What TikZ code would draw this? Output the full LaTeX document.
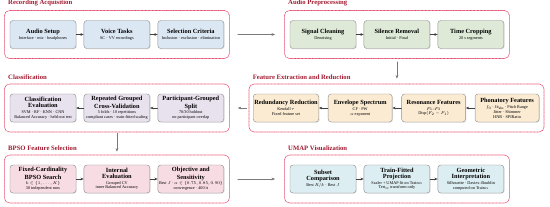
\documentclass[tikz,border=0pt]{standalone}
\usepackage{amsmath,amssymb}
\usepackage{fontspec}
\setmainfont{Liberation Serif}
\usepackage{xcolor}
\usepackage{tikz}
\usetikzlibrary{arrows.meta,positioning,calc,shadows}
\definecolor{framered}{HTML}{E4476B}
\definecolor{titlered}{HTML}{A11A31}
\definecolor{boxgray}{HTML}{8E8E8E}
\definecolor{arrowink}{HTML}{3F3F3F}
\definecolor{linkgray}{HTML}{7A7A7A}
\definecolor{fillblue}{HTML}{DCE7F4}
\definecolor{fillgreen}{HTML}{DEEAD7}
\definecolor{filllilac}{HTML}{E8E2EE}
\definecolor{fillsand}{HTML}{FAEBD2}
\definecolor{fillpink}{HTML}{F8DCE4}
\definecolor{fillcyan}{HTML}{DDEEF2}
\newcommand{\boxhead}[1]{{\fontsize{9}{10}\selectfont\bfseries #1}}
\newcommand{\boxnote}[1]{{\fontsize{6}{7}\selectfont #1}}
\tikzset{
    every picture/.style={line cap=round,line join=round},
    stagebox/.style={draw=boxgray,line width=0.6pt,rounded corners=1.5mm,
      minimum width=33mm,minimum height=14mm,inner sep=1.5pt,align=center,
      drop shadow={opacity=0.18,shadow xshift=0.4mm,shadow yshift=-0.4mm}},
    featbox/.style={stagebox,minimum width=32mm},
    groupframe/.style={draw=framered,line width=0.9pt,dash pattern=on 0.9pt off 1.1pt,
      rounded corners=2.5mm,inner sep=0pt,minimum width=112.5mm,minimum height=24mm},
    grouptitle/.style={anchor=south west,inner sep=0pt,text=titlered,
      font=\fontsize{9.5}{11}\selectfont\bfseries},
    steparrow/.style={-{Stealth[length=1.6mm,width=1.3mm]},draw=arrowink,line width=0.6pt},
    linkarrow/.style={-{Stealth[length=1.8mm,width=1.4mm]},draw=linkgray,line width=0.6pt}
}

\begin{document}
\begin{tikzpicture}[x=0.5mm,y=0.5mm,font=\fontsize{6}{7}\selectfont]
  \useasboundingbox (0,0) rectangle (550,-207);

  \node[stagebox,fill=fillblue] (setup) at (43,-34.5) {\boxhead{Audio Setup}\\[1.5pt]\boxnote{Interface · mic · headphones}};
  \node[stagebox,fill=fillblue,right=3.75mm of setup] (tasks) {\boxhead{Voice Tasks}\\[1.5pt]\boxnote{SC · VV recordings}};
  \node[stagebox,fill=fillblue,right=3.75mm of tasks] (criteria) {\boxhead{Selection Criteria}\\[1.5pt]\boxnote{Inclusion · exclusion · elimination}};
  \draw[steparrow] (setup) -- (tasks); \draw[steparrow] (tasks) -- (criteria);
  \node[groupframe] (acq) at ($(setup)!0.5!(criteria)$) {};
  \node[grouptitle] (acqtitle) at ([xshift=2mm,yshift=1.8mm]acq.north west) {Recording Acquisition};

  \node[stagebox,fill=fillgreen] (clean) at (323,-34.5) {\boxhead{Signal Cleaning}\\[1.5pt]\boxnote{Denoising}};
  \node[stagebox,fill=fillgreen,right=3.75mm of clean] (silence) {\boxhead{Silence Removal}\\[1.5pt]\boxnote{Initial · Final}};
  \node[stagebox,fill=fillgreen,right=3.75mm of silence] (crop) {\boxhead{Time Cropping}\\[1.5pt]\boxnote{20 s segments}};
  \draw[steparrow] (clean) -- (silence); \draw[steparrow] (silence) -- (crop);
  \node[groupframe] (pre) at ($(clean)!0.5!(crop)$) {};
  \node[grouptitle] (pretitle) at ([xshift=2mm,yshift=1.8mm]pre.north west) {Audio Preprocessing};

  \node[stagebox,fill=filllilac] (evalcls) at (43,-108) {\boxhead{Classification}\\[1.5pt]\boxhead{Evaluation}\\[1pt]\boxnote{SVM · RF · KNN · CNN}\\\boxnote{Balanced Accuracy · held-out test}};
  \node[stagebox,fill=filllilac,right=3.75mm of evalcls] (repcv) {\boxhead{Repeated Grouped}\\[1.5pt]\boxhead{Cross-Validation}\\[1pt]\boxnote{5 folds · 10 repetitions}\\\boxnote{compliant cases · train-fitted scaling}};
  \node[stagebox,fill=filllilac,right=3.75mm of repcv] (split) {\boxhead{Participant-Grouped}\\[1.5pt]\boxhead{Split}\\[1pt]\boxnote{70/30 holdout}\\\boxnote{no participant overlap}};
  \draw[steparrow] (split) -- (repcv); \draw[steparrow] (repcv) -- (evalcls);
  \node[groupframe] (cls) at ($(evalcls)!0.5!(split)$) {};
  \node[grouptitle] (clstitle) at ([xshift=2mm,yshift=1.8mm]cls.north west) {Classification};

  \node[featbox,fill=fillsand] (redund) at (286,-108) {\boxhead{Redundancy Reduction}\\[1.5pt]\boxnote{Kendall $\tau$}\\\boxnote{Fixed feature set}};
  \node[featbox,fill=fillsand,right=4.5mm of redund] (envel) {\boxhead{Envelope Spectrum}\\[1.5pt]\boxnote{CF · PW}\\\boxnote{$\alpha$ exponent}};
  \node[featbox,fill=fillsand,right=4.5mm of envel] (reson) {\boxhead{Resonance Features}\\[1.5pt]\boxnote{$F_1$–$F_3$}\\\boxnote{Disp$(F_2-F_1)$}};
  \node[featbox,fill=fillsand,right=4.5mm of reson] (phon) {\boxhead{Phonatory Features}\\[1.5pt]\boxnote{$f_0$ · Jit$_{\text{abs}}$ · Pitch Range}\\\boxnote{Jitter · Shimmer}\\\boxnote{HNR · SPIRatio}};
  \draw[steparrow] (phon) -- (reson); \draw[steparrow] (reson) -- (envel); \draw[steparrow] (envel) -- (redund);
  \node[groupframe,minimum width=147.5mm] (feat) at ($(redund)!0.5!(phon)$) {};
  \node[grouptitle] (feattitle) at ([xshift=2mm,yshift=1.8mm]feat.north west) {Feature Extraction and Reduction};

  \node[stagebox,fill=fillpink] (bpsosearch) at (43,-179) {\boxhead{Fixed-Cardinality}\\[1.5pt]\boxhead{BPSO Search}\\[1pt]\boxnote{$k\in\{1,\dots,K\}$}\\\boxnote{30 independent runs}};
  \node[stagebox,fill=fillpink,right=3.75mm of bpsosearch] (inner) {\boxhead{Internal}\\[1.5pt]\boxhead{Evaluation}\\[1pt]\boxnote{Grouped CV}\\\boxnote{inner Balanced Accuracy}};
  \node[stagebox,fill=fillpink,right=3.75mm of inner] (objective) {\boxhead{Objective and}\\[1.5pt]\boxhead{Sensitivity}\\[1pt]\boxnote{Best $J$ · $\alpha\in\{0.75,0.85,0.90\}$}\\\boxnote{convergence · 400 it}};
  \draw[steparrow] (bpsosearch) -- (inner); \draw[steparrow] (inner) -- (objective);
  \node[groupframe] (bpso) at ($(bpsosearch)!0.5!(objective)$) {};
  \node[grouptitle] (bpsotitle) at ([xshift=2mm,yshift=1.8mm]bpso.north west) {BPSO Feature Selection};

  \node[stagebox,fill=fillcyan] (subset) at (323,-179) {\boxhead{Subset}\\[1.5pt]\boxhead{Comparison}\\[1pt]\boxnote{Best $R/k$ · Best $J$}};
  \node[stagebox,fill=fillcyan,right=3.75mm of subset] (proj) {\boxhead{Train-Fitted}\\[1.5pt]\boxhead{Projection}\\[1pt]\boxnote{Scaler + UMAP fit on Train$_{\text{cv}}$}\\\boxnote{Test$_{\text{cv}}$ transform only}};
  \node[stagebox,fill=fillcyan,right=3.75mm of proj] (geom) {\boxhead{Geometric}\\[1.5pt]\boxhead{Interpretation}\\[1pt]\boxnote{Silhouette · Davies–Bouldin}\\\boxnote{computed on Train$_{\text{cv}}$}};
  \draw[steparrow] (subset) -- (proj); \draw[steparrow] (proj) -- (geom);
  \node[groupframe] (umap) at ($(subset)!0.5!(geom)$) {};
  \node[grouptitle] (umaptitle) at ([xshift=2mm,yshift=1.8mm]umap.north west) {UMAP Visualization};

  \draw[linkarrow,shorten <=4mm,shorten >=4.5mm] (acq) -- (pre);
  \draw[linkarrow,shorten <=1.5mm,shorten >=2.5mm] (pre.south) -- (pre.south |- feat.north);
  \draw[linkarrow,shorten <=1mm,shorten >=4mm] (feat) -- (cls);
  \draw[linkarrow,shorten <=0.5mm,shorten >=1.5mm] (cls.south) -- (bpso.north);
  \draw[linkarrow,shorten <=4mm,shorten >=4.5mm] (bpso) -- (umap);
\end{tikzpicture}
\end{document}
